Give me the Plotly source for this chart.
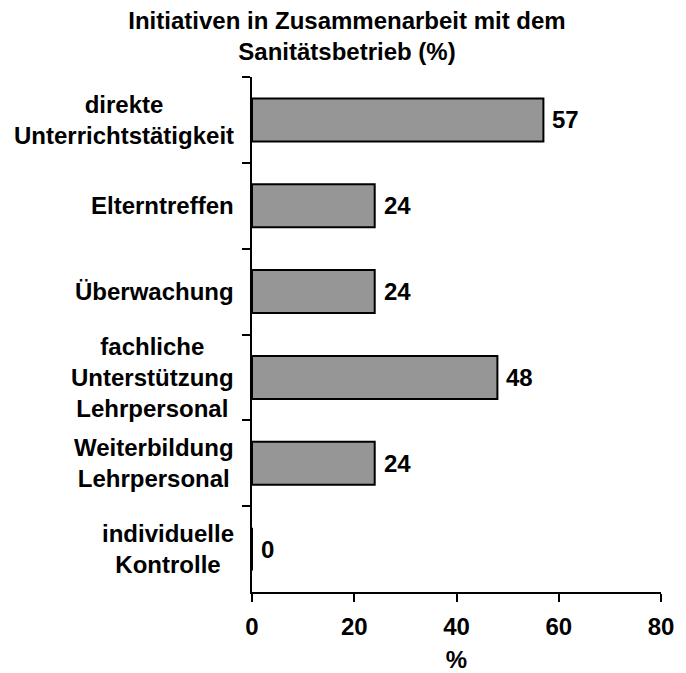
import plotly.graph_objects as go

categories = ["direkte<br>Unterrichtstätigkeit", "Elterntreffen", "Überwachung",
              "fachliche<br>Unterstützung<br>Lehrpersonal", "Weiterbildung<br>Lehrpersonal",
              "individuelle<br>Kontrolle"]
values = [57, 24, 24, 48, 24, 0]
x_ticks = [0, 20, 40, 60, 80]

font = dict(family="Liberation Sans, Arial", size=24, color="black", weight="bold")

fig = go.Figure(go.Bar(
    x=values, y=categories, orientation="h", width=0.5,
    marker=dict(color="#969696", line=dict(color="black", width=2)),
    hoverinfo="skip",
))

# category labels, centred lines
for c in categories:
    fig.add_annotation(x=0, y=c, xref="x", yref="y", text=c, showarrow=False,
                       xanchor="right", align="center", xshift=-16, font=font)
# value labels
for c, v in zip(categories, values):
    fig.add_annotation(x=v, y=c, xref="x", yref="y", text=str(v), showarrow=False,
                       xanchor="left", xshift=7, font=font)

# page body has an 8px margin, so the figure is a little smaller
fig.update_layout(
    width=678, height=665,
    margin=dict(l=244, r=25, t=69, b=81),
    paper_bgcolor="white", plot_bgcolor="white",
    font=font, showlegend=False,
    title=dict(text="Initiativen in Zusammenarbeit mit dem<br>Sanitätsbetrieb (%)",
               x=0.5, xref="container", y=1 - 21 / 665, yref="container",
               yanchor="middle", font=font),
)
fig.update_xaxes(range=[0, 80], tickvals=x_ticks, showgrid=False, zeroline=False,
                 showline=True, linecolor="black", linewidth=2,
                 ticks="outside", ticklen=8, tickwidth=2, tickcolor="black",
                 ticklabelstandoff=4, automargin=False,
                 title=dict(text="%", standoff=22, font=font))
fig.update_yaxes(autorange="reversed", showticklabels=False, showgrid=False,
                 showline=True, linecolor="black", linewidth=2,
                 ticks="outside", ticklen=8, tickwidth=2, tickcolor="black",
                 tickson="boundaries", automargin=False)

fig.write_html("out.html")
